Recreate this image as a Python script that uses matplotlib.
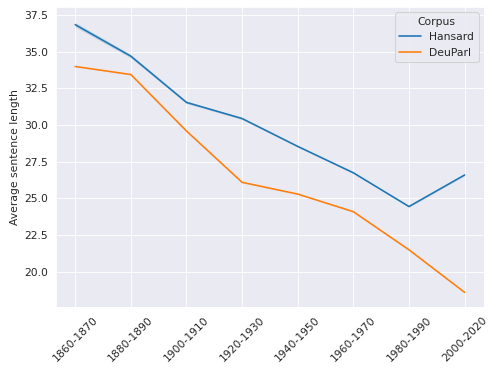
import numpy as np
import matplotlib
matplotlib.use("Agg")
import matplotlib.pyplot as plt
import seaborn as sns

decades = ["1860-1870", "1880-1890", "1900-1910", "1920-1930",
           "1940-1950", "1960-1970", "1980-1990", "2000-2020"]
hansard = [36.85, 34.7, 31.55, 30.45, 28.55, 26.75, 24.45, 26.6]
hansard_ci = [0.15, 0.12, 0.08, 0.07, 0.05, 0.05, 0.05, 0.05]
deuparl = [34.0, 33.45, 29.6, 26.1, 25.3, 24.1, 21.5, 18.6]
deuparl_ci = [0.03, 0.03, 0.03, 0.03, 0.03, 0.03, 0.03, 0.03]


def main():
    sns.set_style("darkgrid")
    dpi = 498 / 6.4
    fig, ax = plt.subplots(figsize=(6.4, 373 / dpi), dpi=dpi)
    x = np.arange(len(decades))

    for vals, ci, name, col in [(hansard, hansard_ci, "Hansard", "#1f77b4"),
                                (deuparl, deuparl_ci, "DeuParl", "#ff7f0e")]:
        vals = np.array(vals)
        ci = np.array(ci)
        ax.plot(x, vals, color=col, lw=1.5, label=name)
        ax.fill_between(x, vals - ci, vals + ci, color=col, alpha=0.2, lw=0)

    ax.set_xticks(x)
    ax.set_xticklabels(decades, rotation=45)
    ax.set_ylim(17.6, 38.05)
    ax.set_ylabel("Average sentence length")
    ax.legend(title="Corpus", loc="upper right")
    fig.subplots_adjust(left=0.112, right=0.972, top=0.981, bottom=0.177)
    fig.savefig("out.png", dpi=dpi)


if __name__ == "__main__":
    main()
